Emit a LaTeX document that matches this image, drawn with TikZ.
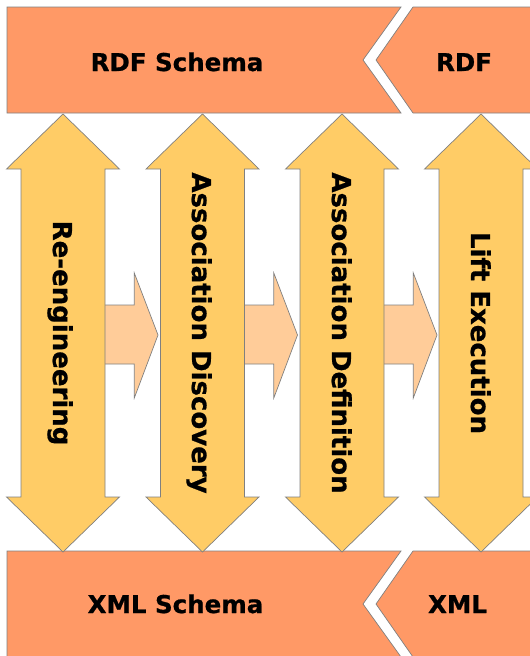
\documentclass[tikz,border=0pt]{standalone}
\usepackage{fontspec}
\setmainfont{DejaVu Sans}[BoldFeatures={FakeBold=0.8}]
\begin{document}
\begin{tikzpicture}[x=1pt,y=-1pt,
  outl/.style={draw={rgb,255:red,128;green,128;blue,128},line width=0.7pt,line join=miter},
  banner/.style={outl,fill={rgb,255:red,255;green,153;blue,102}},
  varrow/.style={outl,fill={rgb,255:red,255;green,204;blue,102}},
  harrow/.style={outl,fill={rgb,255:red,255;green,204;blue,153}},
  htext/.style={anchor=base,inner sep=0pt,font=\fontsize{24.5}{28}\selectfont\bfseries},
  vtext/.style={anchor=base,inner sep=0pt,rotate=-90,font=\fontsize{26}{30}\selectfont\bfseries}]
\useasboundingbox (0,0) rectangle (530,656);
\clip (0,0) rectangle (530,656);
% banners
\draw[banner] (7,7) -- (401,7) -- (363,60) -- (401,113) -- (7,113) -- cycle;
\draw[banner] (413,7) -- (540,7) -- (540,113) -- (413,113) -- (376,60) -- cycle;
\draw[banner] (7,551) -- (401,551) -- (363,604) -- (401,657) -- (7,657) -- cycle;
\draw[banner] (413,551) -- (540,551) -- (540,657) -- (413,657) -- (376,604) -- cycle;
% horizontal arrows
\foreach \c in {63,202.5,342} {
  \draw[harrow] (\c+40,305) -- (\c+71.3,305) -- (\c+71.3,273) -- (\c+95,335)
    -- (\c+71.3,398) -- (\c+71.3,364) -- (\c+40,364) -- cycle;
}
% vertical double arrows
\foreach \c in {63,202.5,342,481} {
  \draw[varrow] (\c,114) -- (\c+56.5,169) -- (\c+42,169) -- (\c+42,497) -- (\c+56.5,497)
    -- (\c,552) -- (\c-56.5,497) -- (\c-42,497) -- (\c-42,169) -- (\c-56.5,169) -- cycle;
}
% texts
\node[htext] (rdfs) at (177,71) {RDF Schema};
\node[htext] (rdf) at (464,71) {RDF};
\node[htext] (xmls) at (175.5,613) {XML Schema};
\node[htext] (xml) at (457.5,613) {XML};
\node[vtext] (reeng) at (53,333) {Re-engineering};
\node[vtext] (adisc) at (192,333) {Association Discovery};
\node[vtext] (adef) at (332,333) {Association Definition};
\node[vtext] (lift) at (471,333) {Lift Execution};
\end{tikzpicture}
\end{document}
